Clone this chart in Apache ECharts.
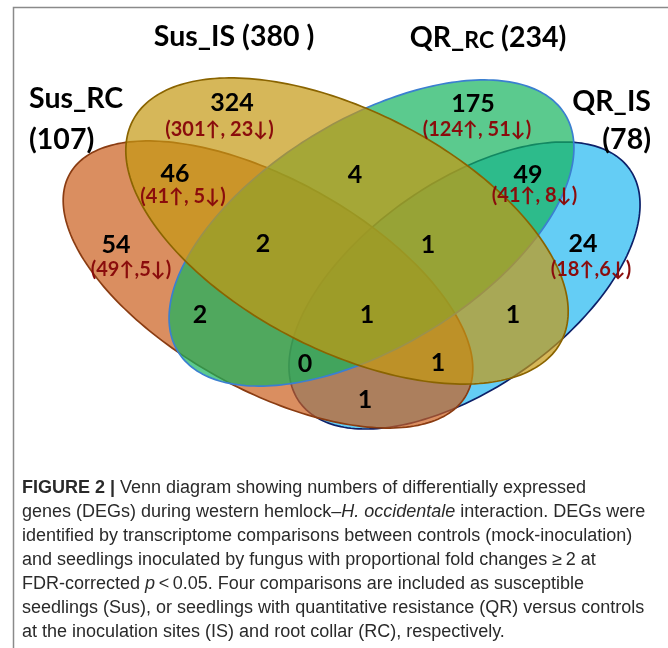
<!DOCTYPE html>
<html>
<head>
<meta charset="utf-8">
<title>Venn diagram of DEGs</title>
<script src="https://cdn.jsdelivr.net/npm/echarts@6/dist/echarts.min.js"></script>
<style>
  html, body { margin: 0; padding: 0; background: #ffffff; }
  #chart { width: 668px; height: 648px; }
</style>
</head>
<body>
<div id="chart"></div>
<script>
// ---------------- Data ----------------
// Four comparisons and the total number of DEGs in each
const setNames  = ['Sus_RC', 'Sus_IS', 'QR_RC', 'QR_IS'];
const setPrefix = ['Sus_', 'Sus_', 'QR_', 'QR_'];
const setSuffix = ['RC', 'IS', 'RC', 'IS'];
const setTotals = [107, 380, 234, 78];

// Every Venn region: the comparisons it belongs to and its DEG count
const regionSets = [
  ['Sus_RC'], ['Sus_IS'], ['QR_RC'], ['QR_IS'],
  ['Sus_RC', 'Sus_IS'], ['QR_RC', 'QR_IS'], ['Sus_IS', 'QR_RC'],
  ['Sus_RC', 'Sus_IS', 'QR_RC'], ['Sus_IS', 'QR_RC', 'QR_IS'],
  ['Sus_RC', 'QR_RC'], ['Sus_RC', 'Sus_IS', 'QR_RC', 'QR_IS'], ['Sus_IS', 'QR_IS'],
  ['Sus_RC', 'QR_RC', 'QR_IS'], ['Sus_RC', 'Sus_IS', 'QR_IS'], ['Sus_RC', 'QR_IS']
];
const regionCounts = [54, 324, 175, 24, 46, 49, 4, 2, 1, 2, 1, 1, 0, 1, 1];
// up- / down-regulated split (given for the larger regions only)
const regionUp   = [49, 301, 124, 18, 41, 41, null, null, null, null, null, null, null, null, null];
const regionDown = [5, 23, 51, 6, 5, 8, null, null, null, null, null, null, null, null, null];

// ---------------- Layout ----------------
// Diagram coordinates: one unit = one pixel of the canvas, y grows downward.
const ellipseGeom = {
  Sus_RC: { cx: 268,   cy: 284.5, rx: 227, ry: 105,   angle: 29.1 },
  Sus_IS: { cx: 347,   cy: 231,   rx: 241, ry: 119.5, angle: 27.2 },
  QR_RC:  { cx: 371.5, cy: 233,   rx: 227, ry: 113.5, angle: -31.5 },
  QR_IS:  { cx: 464.5, cy: 285.5, rx: 202, ry: 103,   angle: -35.1 }
};
// painting order, bottom to top
const drawOrder = ['QR_IS', 'Sus_RC', 'QR_RC', 'Sus_IS'];

const countAnchor = [
  [116, 245], [232, 103], [473, 104], [583, 244],
  [175, 174], [528, 175], [355, 175],
  [263, 244], [428, 245],
  [200, 315], [367, 315], [513, 315],
  [305, 364], [438, 363], [365, 400]
];
const splitAnchor = [
  [131, 270], [219.5, 129.5], [477, 130], [591, 270], [183, 196.5], [534.5, 196]
];
const splitSep = [',', ', ', ', ', ',', ', ', ', '];

// set titles: anchor and alignment for the name line and the total line
const titleLayout = {
  Sus_RC: { twoLines: true,  x: 29,  y1: 99,  y2: 140, align: 'left' },
  Sus_IS: { twoLines: false, x: 234, y1: 37,  align: 'center' },
  QR_RC:  { twoLines: false, x: 488, y1: 38,  align: 'center' },
  QR_IS:  { twoLines: true,  x: 651, y1: 102, y2: 140, align: 'right' }
};

// ---------------- Styles ----------------
const setStyle = {
  Sus_RC: { fill: 'rgba(202,94,28,0.7)',  stroke: '#8a3c12' },
  Sus_IS: { fill: 'rgba(196,152,19,0.7)', stroke: '#8a6400' },
  QR_RC:  { fill: 'rgba(22,179,94,0.7)',  stroke: '#3b7fd0' },
  QR_IS:  { fill: 'rgba(34,184,241,0.7)', stroke: '#0d2169' }
};
const labelFont = 'Lato, "Open Sans", sans-serif';
const countStyle = { fontSize: 25, fontWeight: 'bold', color: '#000000' };
const splitStyle = { fontSize: 20, fontWeight: 'bold', color: '#8a0c0c' };
const titleSize = 28.5;
const smallSuffixSize = { Sus_RC: 28.5, Sus_IS: 28.5, QR_RC: 23, QR_IS: 28.5 };

// ---------------- Helpers ----------------
function ellipsePoints(e, api) {
  const th = e.angle * Math.PI / 180;
  const pts = [];
  const n = 240;
  for (let k = 0; k < n; k++) {
    const t = (k / n) * Math.PI * 2;
    const ux = e.rx * Math.cos(t);
    const uy = e.ry * Math.sin(t);
    pts.push(api.coord([
      e.cx + ux * Math.cos(th) - uy * Math.sin(th),
      e.cy + ux * Math.sin(th) + uy * Math.cos(th)
    ]));
  }
  return pts;
}

const chart = echarts.init(document.getElementById('chart'), null, { renderer: 'canvas' });

const captionText = [
  '{b|FIGURE 2 |} Venn diagram showing numbers of differentially expressed',
  'genes (DEGs) during western hemlock\u2013{i|H. occidentale} interaction. DEGs were',
  'identified by transcriptome comparisons between controls (mock-inoculation)',
  'and seedlings inoculated by fungus with proportional fold changes \u2265\u20092 at',
  'FDR-corrected {i|p}\u2009<\u20090.05. Four comparisons are included as susceptible',
  'seedlings (Sus), or seedlings with quantitative resistance (QR) versus controls',
  'at the inoculation sites (IS) and root collar (RC), respectively.'
].join('\n');

const captionFont = '"Liberation Sans", Arial, sans-serif';
const captionSize = 18;
const captionLine = 24;

const option = {
  animation: false,
  backgroundColor: '#ffffff',
  title: {
    left: 22,
    top: 476,
    padding: 0,
    text: captionText,
    textStyle: {
      fontFamily: captionFont, fontSize: captionSize, fontWeight: 'normal',
      color: '#2a2a2a', lineHeight: captionLine,
      rich: {
        b: { fontFamily: captionFont, fontSize: captionSize, fontWeight: 'bold', color: '#2a2a2a', lineHeight: captionLine },
        i: { fontFamily: captionFont, fontSize: captionSize, fontStyle: 'italic', color: '#2a2a2a', lineHeight: captionLine }
      }
    }
  },
  graphic: [{
    type: 'rect',
    shape: { x: 13.5, y: 7.5, width: 720, height: 720 },
    style: { fill: 'none', stroke: '#8a8a8a', lineWidth: 1.5 },
    silent: true
  }],
  grid: { left: 0, right: 0, top: 0, bottom: 0 },
  xAxis: { type: 'value', min: 0, max: 668, show: false },
  yAxis: { type: 'value', min: 0, max: 648, inverse: true, show: false },
  series: [
    {
      // the four comparison ellipses
      type: 'custom',
      coordinateSystem: 'cartesian2d',
      silent: true,
      data: drawOrder.map(name => [setNames.indexOf(name), 0]),
      renderItem: function (params, api) {
        const name = setNames[api.value(0)];
        const st = setStyle[name];
        return {
          type: 'polygon',
          shape: { points: ellipsePoints(ellipseGeom[name], api) },
          style: { fill: st.fill, stroke: st.stroke, lineWidth: 1.7 }
        };
      }
    },
    {
      // region counts and up/down split
      type: 'custom',
      coordinateSystem: 'cartesian2d',
      silent: true,
      data: regionCounts.map((c, i) => [i, 0]),
      renderItem: function (params, api) {
        const i = api.value(0);
        const p = api.coord(countAnchor[i]);
        const children = [{
          type: 'text',
          x: p[0], y: p[1],
          style: {
            text: String(regionCounts[i]),
            fill: countStyle.color,
            fontSize: countStyle.fontSize,
            fontWeight: countStyle.fontWeight,
            fontFamily: labelFont,
            align: 'center', verticalAlign: 'middle'
          }
        }];
        if (regionUp[i] != null) {
          const q = api.coord(splitAnchor[i]);
          children.push({
            type: 'text',
            x: q[0], y: q[1],
            style: {
              text: '(' + regionUp[i] + '\u2191' + splitSep[i] + regionDown[i] + '\u2193)',
              fill: splitStyle.color,
              fontSize: splitStyle.fontSize,
              fontWeight: splitStyle.fontWeight,
              fontFamily: labelFont,
              align: 'center', verticalAlign: 'middle'
            }
          });
        }
        return { type: 'group', children: children };
      }
    },
    {
      // comparison names with totals
      type: 'custom',
      coordinateSystem: 'cartesian2d',
      silent: true,
      data: setNames.map((n, i) => [i, 0]),
      renderItem: function (params, api) {
        const i = api.value(0);
        const name = setNames[i];
        const L = titleLayout[name];
        const rich = {
          a: { fontSize: titleSize, fontWeight: 'bold', fontFamily: labelFont, color: '#000', lineHeight: titleSize, verticalAlign: 'bottom' },
          s: { fontSize: smallSuffixSize[name], fontWeight: 'bold', fontFamily: labelFont, color: '#000', lineHeight: titleSize, verticalAlign: 'bottom' }
        };
        const nameText = '{a|' + setPrefix[i] + '}{s|' + setSuffix[i] + '}';
        const totalText = '(' + setTotals[i] + (name === 'Sus_IS' ? ' )' : ')');
        const children = [];
        const p1 = api.coord([L.x, L.y1]);
        if (L.twoLines) {
          const p2 = api.coord([L.x, L.y2]);
          children.push({ type: 'text', x: p1[0], y: p1[1],
            style: { text: nameText, rich: rich, align: L.align, verticalAlign: 'middle' } });
          children.push({ type: 'text', x: p2[0], y: p2[1],
            style: { text: '{a|' + totalText + '}', rich: rich, align: L.align, verticalAlign: 'middle' } });
        } else {
          children.push({ type: 'text', x: p1[0], y: p1[1],
            style: { text: nameText + '{a| ' + totalText + '}', rich: rich, align: L.align, verticalAlign: 'middle' } });
        }
        return { type: 'group', children: children };
      }
    }
  ]
};

chart.setOption(option);
</script>
</body>
</html>
